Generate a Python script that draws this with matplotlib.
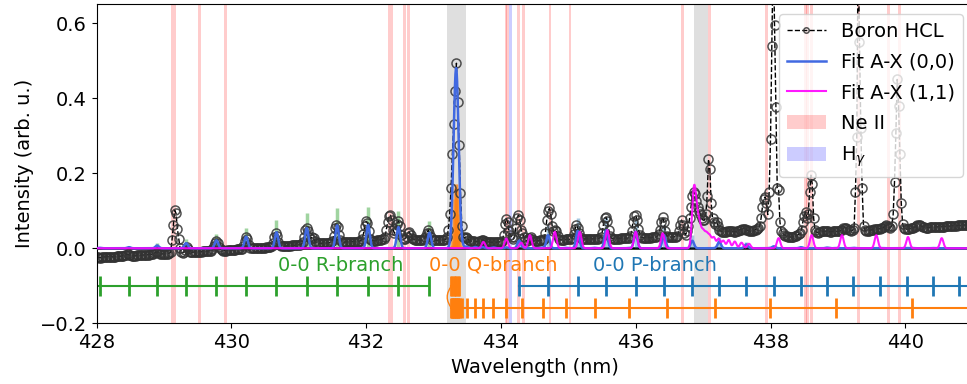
import numpy as np
import matplotlib
matplotlib.use("Agg")
import matplotlib.pyplot as plt
from matplotlib.patches import Patch

plt.rcParams["font.size"] = 14
plt.rcParams["font.family"] = ["DejaVu Sans"]

# ---------------- data ----------------
wl_start = 428.0
wl_step = 0.02

spec_428 = [-0.024,-0.024,-0.025,-0.025,-0.024,-0.023,-0.023,-0.023,-0.022,-0.022,
            -0.022,-0.022,-0.023,-0.023,-0.022,-0.021,-0.021,-0.021,-0.021,-0.020,
            -0.020,-0.019,-0.017,-0.016,-0.017,-0.019,-0.020,-0.020,-0.020,-0.020,
            -0.019,-0.019,-0.019,-0.019,-0.018,-0.018,-0.018,-0.017,-0.017,-0.017,
            -0.016,-0.016,-0.015,-0.013,-0.011,-0.010,-0.012,-0.014,-0.015,-0.015]
spec_429 = [-0.015,-0.015,-0.014,-0.014,-0.013,-0.010,0.021,0.061,0.101,0.093,
            0.052,0.026,0.000,-0.010,-0.012,-0.010,-0.004,0.003,-0.003,-0.009,
            -0.011,-0.011,-0.010,-0.010,-0.010,-0.010,-0.009,-0.009,-0.009,-0.008,
            -0.008,-0.008,-0.008,-0.007,-0.007,-0.006,-0.002,0.006,0.015,0.020,
            0.014,0.004,-0.003,-0.005,-0.006,-0.006,-0.006,-0.005,-0.005,-0.005]
spec_430 = [-0.005,-0.004,-0.004,-0.004,-0.003,-0.003,-0.003,-0.002,-0.001,0.006,
            0.019,0.030,0.024,0.010,0.002,0.000,0.000,0.000,0.001,0.001,
            0.001,0.001,0.002,0.002,0.002,0.002,0.003,0.003,0.003,0.004,
            0.006,0.015,0.031,0.041,0.033,0.017,0.008,0.006,0.006,0.006,
            0.006,0.006,0.007,0.007,0.007,0.008,0.008,0.008,0.009,0.009]
spec_431 = [0.009,0.010,0.011,0.016,0.030,0.048,0.055,0.045,0.030,0.026,
            0.030,0.027,0.019,0.014,0.013,0.013,0.013,0.013,0.014,0.014,
            0.014,0.014,0.015,0.015,0.016,0.020,0.034,0.054,0.063,0.056,
            0.036,0.022,0.017,0.016,0.016,0.017,0.017,0.017,0.017,0.018,
            0.018,0.018,0.018,0.018,0.018,0.019,0.020,0.024,0.038,0.060]
spec_432 = [0.072,0.068,0.045,0.026,0.021,0.020,0.020,0.020,0.021,0.021,
            0.022,0.023,0.024,0.026,0.030,0.050,0.070,0.085,0.088,0.075,
            0.050,0.040,0.045,0.065,0.073,0.060,0.035,0.027,0.026,0.026,
            0.030,0.040,0.044,0.036,0.027,0.024,0.023,0.022,0.022,0.022,
            0.021,0.021,0.022,0.024,0.030,0.040,0.048,0.042,0.030,0.023]
spec_433 = [0.021,0.021,0.021,0.021,0.021,0.021,0.022,0.022,0.023,0.024,
            0.030,0.050,0.090,0.160,0.250,0.330,0.420,0.493,0.390,0.275,
            0.148,0.060,0.030,0.027,0.030,0.028,0.022,0.020,0.019,0.019,
            0.019,0.018,0.018,0.018,0.019,0.020,0.022,0.021,0.019,0.018,
            0.017,0.017,0.016,0.016,0.016,0.016,0.016,0.016,0.017,0.017]
spec_434 = [0.017,0.020,0.035,0.065,0.079,0.070,0.045,0.035,0.030,0.024,
            0.030,0.055,0.080,0.088,0.075,0.050,0.040,0.030,0.022,0.020,
            0.022,0.028,0.030,0.026,0.021,0.020,0.020,0.020,0.020,0.021,
            0.021,0.022,0.025,0.040,0.075,0.100,0.106,0.090,0.060,0.045,
            0.050,0.045,0.032,0.025,0.023,0.023,0.023,0.023,0.024,0.024]
spec_435 = [0.024,0.024,0.025,0.028,0.038,0.052,0.061,0.055,0.042,0.030,
            0.026,0.025,0.025,0.025,0.025,0.025,0.025,0.025,0.025,0.026,
            0.026,0.026,0.026,0.027,0.030,0.040,0.062,0.080,0.083,0.072,
            0.050,0.033,0.027,0.026,0.026,0.026,0.026,0.026,0.026,0.027,
            0.027,0.027,0.027,0.027,0.027,0.028,0.032,0.045,0.070,0.086]
spec_436 = [0.088,0.076,0.052,0.036,0.030,0.028,0.028,0.028,0.028,0.028,
            0.028,0.028,0.029,0.029,0.029,0.030,0.032,0.038,0.050,0.070,
            0.082,0.070,0.045,0.034,0.031,0.030,0.030,0.030,0.030,0.031,
            0.031,0.033,0.045,0.062,0.075,0.062,0.042,0.036,0.045,0.060,
            0.080,0.110,0.140,0.150,0.145,0.125,0.110,0.100,0.090,0.080]
spec_437 = [0.075,0.075,0.090,0.140,0.237,0.210,0.120,0.080,0.070,0.065,
            0.070,0.060,0.050,0.046,0.044,0.043,0.043,0.044,0.045,0.046,
            0.047,0.046,0.045,0.044,0.044,0.045,0.047,0.049,0.050,0.051,
            0.052,0.051,0.050,0.048,0.046,0.045,0.045,0.046,0.048,0.050,
            0.052,0.055,0.060,0.080,0.110,0.130,0.137,0.120,0.090,0.150]
spec_438 = [0.290,0.540,0.800,0.595,0.377,0.160,0.155,0.070,0.045,0.040,
            0.036,0.034,0.032,0.031,0.030,0.030,0.030,0.031,0.032,0.033,
            0.035,0.037,0.040,0.050,0.070,0.085,0.097,0.080,0.090,0.150,
            0.195,0.170,0.080,0.050,0.043,0.042,0.043,0.044,0.045,0.045,
            0.045,0.046,0.046,0.045,0.044,0.044,0.045,0.046,0.046,0.045]
spec_439 = [0.045,0.046,0.048,0.050,0.053,0.055,0.054,0.052,0.050,0.048,
            0.047,0.048,0.055,0.150,0.297,0.800,0.550,0.320,0.160,0.060,
            0.048,0.046,0.046,0.047,0.048,0.049,0.050,0.051,0.052,0.052,
            0.052,0.052,0.053,0.054,0.056,0.060,0.062,0.060,0.056,0.055,
            0.060,0.090,0.177,0.306,0.450,0.380,0.250,0.120,0.065,0.055]
spec_440 = [0.052,0.051,0.051,0.052,0.053,0.054,0.055,0.057,0.059,0.061,
            0.062,0.061,0.059,0.057,0.056,0.055,0.055,0.055,0.056,0.056,
            0.056,0.056,0.057,0.057,0.057,0.058,0.058,0.058,0.058,0.058,
            0.059,0.059,0.059,0.059,0.060,0.060,0.060,0.060,0.060,0.061,
            0.061,0.061,0.061,0.062,0.062,0.062,0.062,0.062,0.063,0.063]

# A-X (0,0) branch line positions (nm) and stick intensities
R_pos = [427.62, 428.05, 428.48, 428.90, 429.33, 429.78, 430.22, 430.67,
         431.12, 431.57, 432.03, 432.48, 432.94]
R_stick = [0.0, 0.002, 0.005, 0.013, 0.024, 0.037, 0.054, 0.075,
           0.094, 0.107, 0.109, 0.099, 0.073]
Q_pos = [433.26, 433.27, 433.28, 433.29, 433.30, 433.31, 433.32, 433.33, 433.34,
         433.35, 433.36, 433.37, 433.38, 433.40, 433.42, 433.49, 433.62, 433.73,
         433.89, 434.08, 434.32, 434.62, 434.96, 435.39, 435.90, 436.47, 437.18,
         437.99, 438.97, 440.10, 441.35]
Q_stick = [0.005, 0.01, 0.02, 0.04, 0.08, 0.13, 0.16, 0.17, 0.17,
           0.16, 0.13, 0.09, 0.05, 0.02, 0.01, 0.008, 0.006, 0.005,
           0.004, 0.004, 0.003, 0.003, 0.002, 0.002, 0.002, 0.001, 0.001,
           0.001, 0.001, 0.001, 0.0]
Q_head_pos = [433.26, 433.28, 433.30, 433.32, 433.34, 433.36, 433.38]
P_pos = [434.27, 434.70, 435.14, 435.56, 436.00, 436.42, 436.84, 437.24, 437.64,
         438.05, 438.45, 438.84, 439.23, 439.63, 440.02, 440.41, 440.80, 441.19]
P_stick = [0.035, 0.061, 0.081, 0.084, 0.077, 0.061, 0.035, 0.030, 0.018,
           0.009, 0.005, 0.003, 0.002, 0.001, 0.001, 0.001, 0.0, 0.0]
fit_scale = 0.57
line_sigma = 0.025

# A-X (1,1) fitted lines (nm) and peak amplitudes
V11_pos = [433.74, 434.08, 434.30, 434.43, 434.80, 435.17, 435.58, 436.00, 436.40,
           436.855, 436.88, 436.91, 436.95, 437.00, 437.05, 437.10, 437.16, 437.23,
           437.30, 437.38, 437.47, 437.57, 437.68, 438.12, 438.61, 439.06, 439.57,
           440.04, 440.54]
V11_amp = [0.017, 0.026, 0.015, 0.035, 0.044, 0.044, 0.048, 0.044, 0.040,
           0.105, 0.070, 0.060, 0.050, 0.040, 0.035, 0.030, 0.028, 0.025,
           0.020, 0.022, 0.018, 0.015, 0.012, 0.027, 0.035, 0.035, 0.035,
           0.030, 0.027]

ne_lines = [429.125, 429.165, 429.531, 429.911, 432.340, 432.380, 432.567, 432.626,
            434.076, 434.101, 434.264, 434.332, 434.728, 435.025, 436.691, 437.092,
            437.944, 438.522, 438.552, 438.611, 439.303, 439.748, 439.911]
h_gamma = 434.145
excluded = [(433.205, 433.478), (436.859, 437.067)]

# ---------------- derived ----------------
spectrum = np.concatenate([spec_428, spec_429, spec_430, spec_431, spec_432, spec_433,
                           spec_434, spec_435, spec_436, spec_437, spec_438, spec_439,
                           spec_440])
wavelength = wl_start + wl_step * np.arange(len(spectrum))

grid = np.linspace(427.5, 441.5, 4000)


def profile(pos, amp):
    pos = np.asarray(pos)[:, None]
    amp = np.asarray(amp)[:, None]
    return (amp * np.exp(-0.5 * ((grid - pos) / line_sigma) ** 2)).sum(axis=0)


fit00 = fit_scale * (profile(R_pos, R_stick) + profile(Q_pos, Q_stick) + profile(P_pos, P_stick))
fit11 = profile(V11_pos, V11_amp)

# ---------------- plot ----------------
fig = plt.figure(figsize=(9.67, 3.84), dpi=100)
ax = fig.add_axes([0.0998, 0.158, 0.9061, 0.8307])

hw = 0.02
for c in ne_lines:
    ax.axvspan(c - hw, c + hw, color="red", alpha=0.2, lw=0, zorder=0)
ax.axvspan(h_gamma - hw, h_gamma + hw, color="blue", alpha=0.2, lw=0, zorder=0)
for a, b in excluded:
    ax.axvspan(a, b, color="gray", alpha=0.25, lw=0, zorder=0.5)

ax.axhline(0, color="k", lw=1.8, zorder=1)

ax.vlines(R_pos, 0, R_stick, color="tab:green", alpha=0.45, lw=2.5, zorder=1.5)
ax.vlines(Q_pos, 0, Q_stick, color="tab:orange", alpha=0.5, lw=2.5, zorder=1.5)
ax.vlines(P_pos, 0, P_stick, color="tab:blue", alpha=0.4, lw=2.5, zorder=1.5)

data_line, = ax.plot(wavelength, spectrum, "--", color="k", lw=1,
                     marker="o", ms=6.5, mfc="none", mec=(0.2, 0.2, 0.2, 0.85), mew=1.1,
                     zorder=2, label="Boron HCL")
fit0_line, = ax.plot(grid, fit00, color="royalblue", lw=1.8, zorder=3, label="Fit A-X (0,0)")
fit1_line, = ax.plot(grid, fit11, color="magenta", lw=1.5, alpha=0.9, zorder=3.1,
                     label="Fit A-X (1,1)")

# branch markers
ax.plot(R_pos, [-0.1] * len(R_pos), color="tab:green", lw=1.5, marker="|", ms=14, mew=2)
ax.plot(P_pos, [-0.1] * len(P_pos), color="tab:blue", lw=1.5, marker="|", ms=14, mew=2)
ax.plot(Q_pos, [-0.16] * len(Q_pos), color="tab:orange", lw=1.5, marker="|", ms=14, mew=2)
ax.plot(Q_head_pos, [-0.1] * len(Q_head_pos), color="tab:orange", lw=1.5, marker="|", ms=14, mew=2)
ax.annotate("", xy=(Q_head_pos[0] + 0.01, -0.16), xytext=(Q_head_pos[0] + 0.01, -0.1),
            arrowprops=dict(arrowstyle="-", color="tab:orange", lw=1.0,
                            connectionstyle="arc3,rad=0.4", shrinkA=0, shrinkB=0))

ax.text(431.625, -0.0605, "0-0 R-branch", color="tab:green", ha="center", va="baseline")
ax.text(433.89, -0.0605, "0-0 Q-branch", color="tab:orange", ha="center", va="baseline")
ax.text(436.29, -0.0605, "0-0 P-branch", color="tab:blue", ha="center", va="baseline")

ax.set_xlim(428, 441)
ax.set_ylim(-0.2, 0.65)
ax.set_xticks([428, 430, 432, 434, 436, 438, 440])
ax.set_yticks([-0.2, 0.0, 0.2, 0.4, 0.6])
ax.set_xlabel("Wavelength (nm)")
ax.set_ylabel("Intensity (arb. u.)")

handles = [data_line, fit0_line, fit1_line,
           Patch(facecolor="red", alpha=0.2, label="Ne II"),
           Patch(facecolor="blue", alpha=0.2, label=r"H$_\gamma$")]
ax.legend(handles=handles, loc="upper right", fontsize=14, markerscale=0.6,
          labelspacing=0.6)

fig.savefig("out.png", dpi=100)
